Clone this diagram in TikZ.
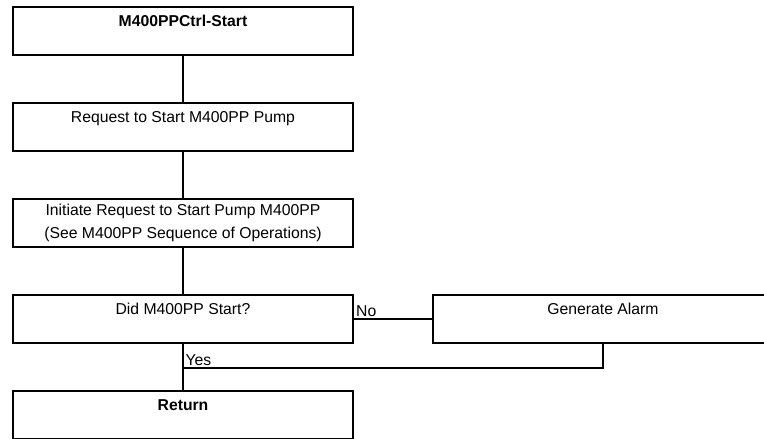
\documentclass[tikz,border=0pt]{standalone}
\usepackage{fontspec}
\setmainfont{Liberation Sans}
\begin{document}
\begin{tikzpicture}[line width=0.8pt,
    every node/.style={font=\fontsize{11.2}{16.4}\selectfont},
    stepbox/.style={draw,minimum width=8.5cm,minimum height=1.2cm,inner sep=0pt,align=center},
    topline/.style={text height=0.49cm,text depth=0.71cm}]
  \path[use as bounding box] (0,0) rectangle (19.1,-10.975);
  \clip (0,0) rectangle (19.1,-10.975);
  \node[stepbox,topline] (start) at (4.575,-0.775) {\textbf{M400PPCtrl-Start}};
  \node[stepbox,topline] (request) at (4.575,-3.175) {Request to Start M400PP Pump};
  \node[stepbox] (initiate) at (4.575,-5.575) {Initiate Request to Start Pump M400PP\\(See M400PP Sequence of Operations)};
  \node[stepbox,topline] (check) at (4.575,-7.975) {Did M400PP Start?};
  \node[stepbox,topline] (alarm) at (15.075,-7.975) {Generate Alarm};
  \node[stepbox,topline] (return) at (4.575,-10.375) {\textbf{Return}};
  \coordinate (merge) at (4.575,-9.2);
  \draw (start) -- (request);
  \draw (request) -- (initiate);
  \draw (initiate) -- (check);
  \draw (check) -- (alarm) node[pos=0,above right,inner sep=1.5pt] (no) {No};
  \draw (check) -- (return);
  \draw (alarm.south) |- (merge) node[above right,inner sep=1.5pt] (yes) {Yes};
\end{tikzpicture}
\end{document}
